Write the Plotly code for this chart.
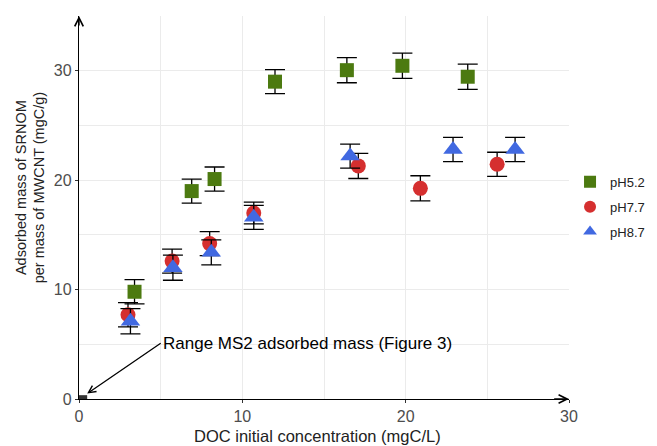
import plotly.graph_objects as go

# Data
x_ph52 = [3.4, 6.9, 8.3, 12.0, 16.4, 19.8, 23.8]
y_ph52 = [9.8, 19.0, 20.1, 29.0, 30.05, 30.45, 29.45]
e_ph52 = [1.1, 1.1, 1.1, 1.1, 1.15, 1.15, 1.15]

x_ph77 = [3.0, 5.7, 8.0, 10.7, 17.1, 20.9, 25.6]
y_ph77 = [7.7, 12.6, 14.2, 17.0, 21.3, 19.25, 21.45]
e_ph77 = [1.1, 1.1, 1.1, 1.0, 1.15, 1.15, 1.1]

x_ph87 = [3.15, 5.75, 8.1, 10.7, 16.6, 22.9, 26.7]
y_ph87 = [7.1, 12.0, 13.4, 16.6, 22.2, 22.8, 22.8]
e_ph87 = [1.15, 1.15, 1.15, 1.1, 1.1, 1.1, 1.1]

ms2_x = [0.0, 0.5]
ms2_y = [0.0, 0.35]

x_ticks = [0, 10, 20, 30]
y_ticks = [0, 10, 20, 30]

font_family = "Liberation Sans, Arial, sans-serif"

series = [
    ("pH5.2", x_ph52, y_ph52, e_ph52, "square", "#4c7a10", 14),
    ("pH7.7", x_ph77, y_ph77, e_ph77, "circle", "#d52f2f", 15),
    ("pH8.7", x_ph87, y_ph87, e_ph87, "triangle-up", "#4169e1", 17),
]

fig = go.Figure()
for name, xs, ys, es, sym, col, sz in series:
    fig.add_trace(go.Scatter(
        x=xs, y=ys, mode="markers", name=name, legendgroup=name,
        marker=dict(symbol=sym, color=col, size=sz, line=dict(width=0)),
        error_y=dict(type="data", array=es, visible=True, color="black",
                     thickness=1.3, width=10),
    ))

# MS2 adsorbed mass range
fig.add_shape(type="rect", xref="x", yref="y",
              x0=ms2_x[0], x1=ms2_x[1], y0=ms2_y[0], y1=ms2_y[1],
              fillcolor="#333333", line=dict(width=0))

fig.add_annotation(
    x=ms2_x[1], y=ms2_y[1] + 0.15, ax=5.0, ay=5.1, xref="x", yref="y",
    axref="x", ayref="y", text="Range MS2 adsorbed mass (Figure 3)",
    xanchor="left", yanchor="middle", showarrow=True, arrowhead=5,
    arrowsize=1.1, arrowwidth=1.3, arrowcolor="black",
    font=dict(family=font_family, size=17, color="black"),
)

# Axis arrows
fig.add_annotation(x=30, y=0, ax=29.0, ay=0, xref="x", yref="y",
                   axref="x", ayref="y", text="", showarrow=True,
                   arrowhead=5, arrowsize=1.2, arrowwidth=1.4,
                   arrowcolor="black")
fig.add_annotation(x=0, y=35, ax=0, ay=34.0, xref="x", yref="y",
                   axref="x", ayref="y", text="", showarrow=True,
                   arrowhead=5, arrowsize=1.2, arrowwidth=1.4,
                   arrowcolor="black")

# Axis titles (as annotations for precise placement)
fig.add_annotation(
    x=-0.1, y=0.55, xref="paper", yref="paper",
    text="Adsorbed mass of SRNOM<br>per mass of MWCNT (mgC/g)",
    textangle=-90, showarrow=False, xanchor="center", yanchor="middle",
    font=dict(family=font_family, size=14.5, color="#222222"),
)
fig.add_annotation(
    x=0.487, y=-0.122, xref="paper", yref="paper",
    text="DOC initial concentration (mgC/L)",
    showarrow=False, xanchor="center", yanchor="bottom", borderpad=0,
    font=dict(family=font_family, size=16.5, color="#222222"),
)

axis_common = dict(
    showgrid=True, gridcolor="#ebebeb", gridwidth=1, automargin=False,
    zeroline=False, showline=True, linecolor="black", linewidth=1.4,
    ticks="outside", ticklen=3, tickcolor="#333333", tickwidth=1,
    tickfont=dict(family=font_family, size=16, color="#4d4d4d"),
    minor=dict(showgrid=True, gridcolor="#ebebeb", gridwidth=1, dtick=5),
)

fig.update_xaxes(range=[0, 30], tickvals=x_ticks, **axis_common)
fig.update_yaxes(range=[0, 35], tickvals=y_ticks, **axis_common)

fig.update_layout(
    width=649, height=438,
    margin=dict(l=71, r=88, t=8, b=47),
    plot_bgcolor="white", paper_bgcolor="white",
    legend=dict(xref="container", yref="container",
                x=0.866, y=0.546, yanchor="middle", xanchor="left",
                font=dict(family=font_family, size=13, color="#222222"),
                itemsizing="constant", tracegroupgap=5),
    showlegend=True,
)

fig.write_html("out.html")
